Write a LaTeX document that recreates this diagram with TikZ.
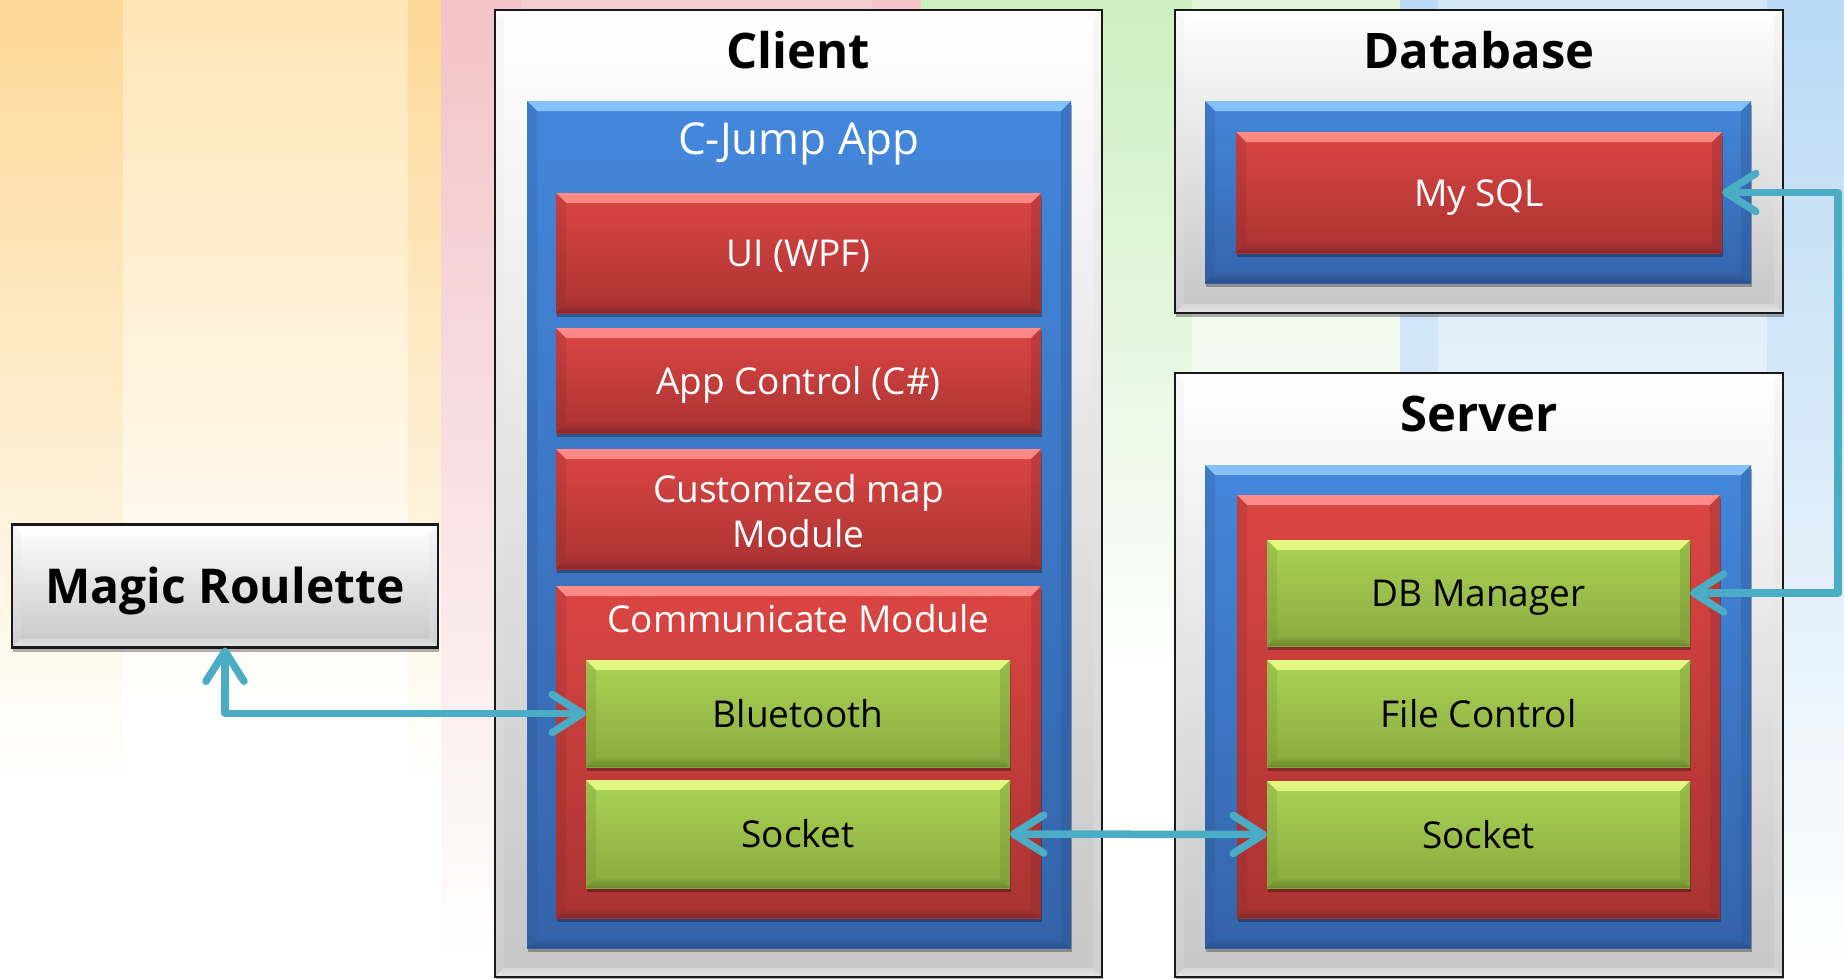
\documentclass[tikz,border=0pt]{standalone}
\usepackage{fontspec}
\setmainfont{Open Sans}
\usetikzlibrary{arrows.meta,shadows}

% column tints of the backdrop
\definecolor{orD}{HTML}{FDD896}
\definecolor{orL}{HTML}{FEE5B6}
\definecolor{pkD}{HTML}{F2C3C7}
\definecolor{pkL}{HTML}{F5CDD1}
\definecolor{grD}{HTML}{CDEFC1}
\definecolor{grL}{HTML}{E0F5D7}
\definecolor{blD}{HTML}{B9D9F4}
\definecolor{blL}{HTML}{D2E6F8}
% box faces and bevel edges
\definecolor{blueTop}{HTML}{4487DB}
\definecolor{blueBot}{HTML}{3464AA}
\definecolor{blueHi}{HTML}{86C2FA}
\definecolor{blueLo}{HTML}{29508C}
\definecolor{redTop}{HTML}{DB4644}
\definecolor{redBot}{HTML}{AA3332}
\definecolor{redHi}{HTML}{FF8C88}
\definecolor{redLo}{HTML}{852829}
\definecolor{grnTop}{HTML}{ABD356}
\definecolor{grnBot}{HTML}{8AAA3F}
\definecolor{grnHi}{HTML}{E6F882}
\definecolor{grnLo}{HTML}{6A882D}
\definecolor{gryBot}{HTML}{C6C6C6}
\definecolor{linkC}{HTML}{4BACC6}

% bevelled edges drawn inside a node: width, top highlight, face top, face bottom, bottom shade
\newcommand\bevelpic[5]{%
  \shade[top color=#2, bottom color=#3]
    (path picture bounding box.north west) -- (path picture bounding box.north east)
    -- ([shift={(-#1,-#1)}]path picture bounding box.north east)
    -- ([shift={(#1,-#1)}]path picture bounding box.north west) -- cycle;
  \shade[top color=#4, bottom color=#5]
    (path picture bounding box.south west) -- (path picture bounding box.south east)
    -- ([shift={(-#1,#1)}]path picture bounding box.south east)
    -- ([shift={(#1,#1)}]path picture bounding box.south west) -- cycle;
  \fill[#5, opacity=0.22]
    (path picture bounding box.north west) -- (path picture bounding box.south west)
    -- ([shift={(#1,#1)}]path picture bounding box.south west)
    -- ([shift={(#1,-#1)}]path picture bounding box.north west) -- cycle;
  \fill[#5, opacity=0.30]
    (path picture bounding box.north east) -- (path picture bounding box.south east)
    -- ([shift={(-#1,#1)}]path picture bounding box.south east)
    -- ([shift={(-#1,-#1)}]path picture bounding box.north east) -- cycle;
}

\newcommand\bodyfont{\fontsize{37}{45}\selectfont}
\newcommand\titlefont{\fontsize{49}{58}\selectfont\bfseries}

\tikzset{
  every node/.style={inner sep=0pt, outer sep=0pt},
  % caps of a one-line label sit centred in its box
  capline/.style={text height=#1, text depth=0pt},
  capline/.default=27pt,
  boxshadow/.style={drop shadow={shadow xshift=1pt, shadow yshift=-4pt, opacity=0.3, fill=black}},
  framebox/.style={rectangle, boxshadow, draw=black!90, line width=2.5pt,
    top color=white, middle color=white!95!black, bottom color=gryBot,
    path picture={\bevelpic{9pt}{white}{white}{black!16}{black!10}}},
  bluebox/.style={rectangle, boxshadow, top color=blueTop, bottom color=blueBot,
    path picture={\bevelpic{10pt}{blueHi}{blueTop}{blueBot}{blueLo}}},
  redbox/.style={rectangle, boxshadow, top color=redTop, bottom color=redBot, text=white,
    font=\bodyfont, align=center,
    path picture={\bevelpic{10pt}{redHi}{redTop}{redBot}{redLo}}},
  greenbox/.style={rectangle, boxshadow, top color=grnTop, bottom color=grnBot, text=black,
    font=\bodyfont, align=center, capline,
    path picture={\bevelpic{10pt}{grnHi}{grnTop}{grnBot}{grnLo}}},
  titletext/.style={text=black, font=\titlefont, capline=35pt},
  boxtitle/.style={text=white, font=\bodyfont, capline},
  link/.style={draw=linkC, line width=7.5pt, line join=round, line cap=round,
    {Straight Barb[round, length=30pt, width=38pt]}-{Straight Barb[round, length=30pt, width=38pt]}},
}

\begin{document}
\begin{tikzpicture}[x=1pt, y=-1pt]
\useasboundingbox (0,0) rectangle (1844,978);

% backdrop columns, each fading to white downwards
\fill[white] (0,0) rectangle (1844,978);
\shade[top color=orD, bottom color=white] (0,0) rectangle (123,780);
\shade[top color=orL, bottom color=white] (123,0) rectangle (408,700);
\shade[top color=orD, bottom color=white] (408,0) rectangle (441,780);
\shade[top color=pkD, bottom color=white] (441,0) rectangle (521,960);
\shade[top color=pkL, bottom color=white] (521,0) rectangle (872,960);
\shade[top color=pkD, bottom color=white] (872,0) rectangle (921,960);
\shade[top color=grD, bottom color=white] (921,0) rectangle (1192,680);
\shade[top color=grL, bottom color=white] (1192,0) rectangle (1400,560);
\shade[top color=blD, bottom color=white] (1400,0) rectangle (1438,970);
\shade[top color=blL, bottom color=white] (1438,0) rectangle (1767,930);
\shade[top color=blD, bottom color=white] (1767,0) rectangle (1844,970);

% Magic Roulette
\node[framebox, minimum width=426pt, minimum height=123pt,
      font=\fontsize{48}{58}\selectfont\bfseries, capline=35pt]
  (mr) at (225,586) {Magic Roulette};

% Client
\node[framebox, minimum width=607pt, minimum height=967pt] (client) at (798.5,493.5) {};
\node[titletext] (clientT) at (798.5,51) {Client};
\node[bluebox, minimum width=544pt, minimum height=847pt] (app) at (799,524.5) {};
\node[boxtitle, font=\fontsize{44}{52}\selectfont, capline=31pt] (appT) at (799,139) {C-Jump App};
\node[redbox, capline, minimum width=485pt, minimum height=120pt] (ui) at (798.5,253) {UI (WPF)};
\node[redbox, capline, minimum width=485pt, minimum height=105pt] (ctrl) at (798.5,380.5) {App Control (C\#)};
\node[redbox, minimum width=485pt, minimum height=120pt] (map) at (798.5,509) {};
\node[boxtitle, align=center, text height=72pt, text depth=0pt] (mapT) at (798.5,511.5) {Customized map\\Module};
\node[redbox, minimum width=485pt, minimum height=332pt] (comm) at (798.5,752) {};
\node[boxtitle] (commT) at (798.5,619) {Communicate Module};
\node[greenbox, minimum width=424pt, minimum height=107pt] (bt) at (798,713.5) {Bluetooth};
\node[greenbox, minimum width=424pt, minimum height=108pt] (csock) at (798,834) {Socket};

% Database
\node[framebox, minimum width=608pt, minimum height=303pt] (db) at (1479,161.5) {};
\node[titletext] (dbT) at (1479,51) {Database};
\node[bluebox, minimum width=546pt, minimum height=182pt] (dbin) at (1478,192) {};
\node[redbox, capline, minimum width=486pt, minimum height=121pt] (sql) at (1479,192.5) {My SQL};

% Server
\node[framebox, minimum width=608pt, minimum height=604pt] (srv) at (1479,675) {};
\node[titletext] (srvT) at (1479,414) {Server};
\node[bluebox, minimum width=546pt, minimum height=483pt] (srvin) at (1478,706.5) {};
\node[redbox, minimum width=483pt, minimum height=423pt] (srvred) at (1478.5,706.5) {};
\node[greenbox, minimum width=423pt, minimum height=106pt] (dbm) at (1478.5,593) {DB Manager};
\node[greenbox, minimum width=423pt, minimum height=107pt] (fc) at (1478.5,713.5) {File Control};
\node[greenbox, minimum width=423pt, minimum height=107pt] (ssock) at (1478.5,834.5) {Socket};

% links
\coordinate (rail) at (1838,0);
\draw[link] (mr.south) |- (bt.west);
\draw[link] (csock.east) -- (ssock.west);
\draw[link] (sql.east) -- (sql.east -| rail) -- (dbm.east -| rail) -- (dbm.east);
\end{tikzpicture}
\end{document}
